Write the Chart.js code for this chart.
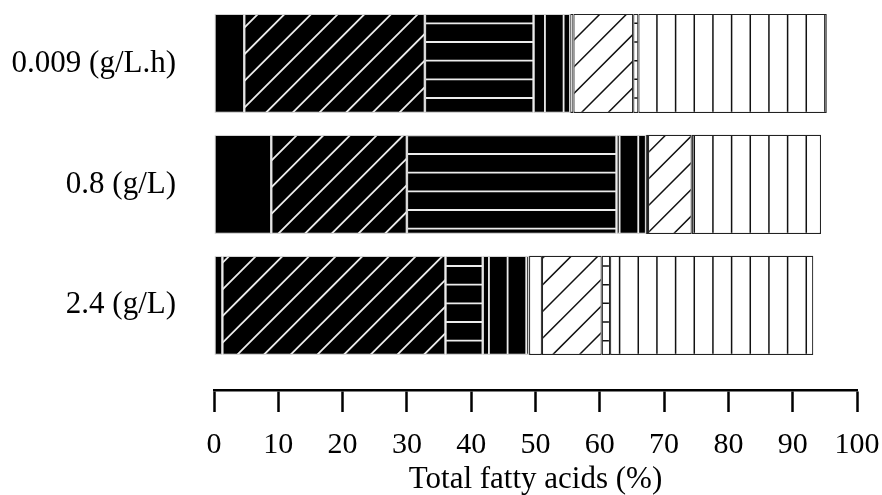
<!DOCTYPE html>
<html>
<head>
<meta charset="utf-8">
<title>Total fatty acids</title>
<script src="https://cdn.jsdelivr.net/npm/chart.js@4"></script>
<style>
  html, body { margin: 0; padding: 0; background: #fff; }
</style>
</head>
<body>
<canvas id="myChart" width="882" height="495"></canvas>
<script>
// categories (rows, top to bottom)
var categories = ['0.009 (g/L.h)', '0.8 (g/L)', '2.4 (g/L)'];
var xTicks = [0, 10, 20, 30, 40, 50, 60, 70, 80, 90, 100];

// % of total fatty acids, one array per fill style, left to right
var blackSolid = [4.7, 8.9, 1.3];
var blackDiag  = [28.1, 21.1, 34.7];
var blackHoriz = [16.9, 32.6, 5.8];
var blackVert  = [5.7, 4.6, 7.2];
var whitePlain = [0.5, 0.3, 2.0];
var whiteDiag  = [9.3, 6.8, 9.3];
var whiteHoriz = [0.8, 0, 1.3];
var whiteVert  = [29.3, 20.1, 31.6];

var ctx = document.getElementById('myChart').getContext('2d');
var serif = "'Liberation Serif', 'Times New Roman', serif";

function stripes(bg, fg, kind, phase, lw) {
    var size = kind === 'diag' ? 80 : 56;
    var step = size / 3;
    var tile = document.createElement('canvas');
    tile.width = size;
    tile.height = size;
    var g = tile.getContext('2d');
    g.fillStyle = bg;
    g.fillRect(0, 0, size, size);
    g.strokeStyle = fg;
    g.lineWidth = lw;
    g.beginPath();
    for (var k = -1; k < 8; k++) {
        var p = phase + k * step;
        if (kind === 'horiz') { g.moveTo(-2, p); g.lineTo(size + 2, p); }
        else if (kind === 'vert') { g.moveTo(p, -2); g.lineTo(p, size + 2); }
        else { g.moveTo(p + 10, -10); g.lineTo(-10, p + 10); }
    }
    g.stroke();
    return ctx.createPattern(tile, 'repeat');
}

var lightLine = '#ececec';
var darkLine = '#111';
var series = [
    { label: 'black', values: blackSolid, fill: '#000', edge: '#d4d4d4' },
    { label: 'black diagonal', values: blackDiag, fill: stripes('#000', lightLine, 'diag', 5.3, 1.8), edge: '#d4d4d4' },
    { label: 'black horizontal', values: blackHoriz, fill: stripes('#000', lightLine, 'horiz', 4.65, 1.8), edge: '#d4d4d4' },
    { label: 'black vertical', values: blackVert, fill: stripes('#000', lightLine, 'vert', 3.6, 1.8), edge: '#d4d4d4' },
    { label: 'white', values: whitePlain, fill: '#fff', edge: '#222' },
    { label: 'white diagonal', values: whiteDiag, fill: stripes('#fff', darkLine, 'diag', 0.7, 1.5), edge: '#222' },
    { label: 'white horizontal', values: whiteHoriz, fill: stripes('#fff', darkLine, 'horiz', 4.65, 1.5), edge: '#222' },
    { label: 'white vertical', values: whiteVert, fill: stripes('#fff', darkLine, 'vert', 3.6, 1.5), edge: '#222' }
];

var datasets = series.map(function (s) {
    return {
        label: s.label,
        data: s.values.map(function (v, i) { return { x: v, y: i }; }),
        backgroundColor: s.fill,
        borderColor: s.edge,
        borderWidth: 1.2,
        borderSkipped: false,
        categoryPercentage: 1,
        barPercentage: 0.82
    };
});

var chart = new Chart(ctx, {
    type: 'bar',
    data: { datasets: datasets },
    options: {
        indexAxis: 'y',
        responsive: false,
        animation: false,
        layout: { padding: { left: 4, right: 25, top: 3, bottom: 0 } },
        plugins: {
            legend: { display: false },
            tooltip: { enabled: false }
        },
        scales: {
            x: {
                type: 'linear',
                stacked: true,
                min: 0,
                max: 100,
                afterBuildTicks: function (scale) {
                    scale.ticks = xTicks.map(function (v) { return { value: v }; });
                },
                afterFit: function (scale) {
                    scale.height = 105;
                    scale.paddingLeft = 0;
                    scale.paddingRight = 0;
                },
                ticks: {
                    color: '#000',
                    padding: 18,
                    maxRotation: 0,
                    font: { family: serif, size: 30, lineHeight: 1 }
                },
                grid: {
                    drawOnChartArea: false,
                    tickLength: 22,
                    tickWidth: 2.5,
                    tickColor: '#000'
                },
                border: { display: true, color: '#000', width: 2.5 },
                title: {
                    display: true,
                    text: 'Total fatty acids (%)',
                    color: '#000',
                    font: { family: serif, size: 31, lineHeight: 1 },
                    padding: { top: 0, bottom: 0 }
                }
            },
            y: {
                type: 'linear',
                stacked: true,
                offset: false,
                reverse: true,
                min: -0.5,
                max: 2.7,
                afterBuildTicks: function (scale) {
                    scale.ticks = categories.map(function (c, i) { return { value: i }; });
                },
                afterFit: function (scale) {
                    scale.width = 210;
                    scale.paddingTop = 0;
                    scale.paddingBottom = 0;
                },
                ticks: {
                    color: '#000',
                    padding: 38,
                    font: { family: serif, size: 31 },
                    callback: function (v) { return categories[v]; }
                },
                grid: { display: false, drawTicks: false },
                border: { display: false }
            }
        }
    }
});
</script>
</body>
</html>
